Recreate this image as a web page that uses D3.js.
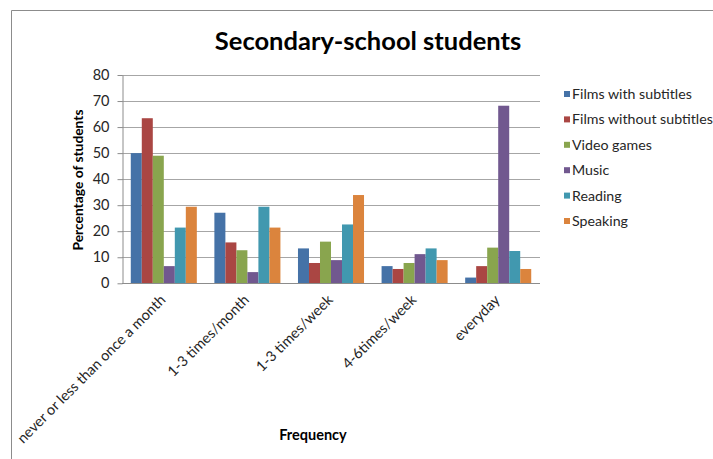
<!DOCTYPE html>
<html>
<head>
<meta charset="utf-8">
<script src="https://cdn.jsdelivr.net/npm/d3@7"></script>
<style>
  html, body { margin: 0; padding: 0; background: #fff; }
  svg { display: block; font-family: Lato, "Open Sans", sans-serif; }
</style>
</head>
<body>
<svg id="chart" width="713" height="459"></svg>
<script>
// Frequency categories along the x axis
const categories = [
  "never or less than once a month",
  "1-3 times/month",
  "1-3 times/week",
  "4-6times/week",
  "everyday"
];

// Activity series (percentage of students per frequency)
const seriesNames = [
  "Films with subtitles",
  "Films without subtitles",
  "Video games",
  "Music",
  "Reading",
  "Speaking"
];
const filmsWithSubtitles    = [50, 27.1, 13.4, 6.6, 2.2];
const filmsWithoutSubtitles = [63.4, 15.7, 7.8, 5.5, 6.6];
const videoGames            = [49, 12.7, 16, 7.8, 13.7];
const music                 = [6.6, 4.3, 8.9, 11.2, 68.2];
const reading               = [21.4, 29.4, 22.6, 13.4, 12.4];
const speaking              = [29.4, 21.4, 33.9, 8.9, 5.5];

const yTicks = [0, 10, 20, 30, 40, 50, 60, 70, 80];
const colors = ["#4572A7", "#AA4643", "#89A54E", "#71588F", "#4198AF", "#DB843D"];

const seriesValues = [filmsWithSubtitles, filmsWithoutSubtitles, videoGames, music, reading, speaking];
const rows = categories.map((c, i) => ({
  category: c,
  values: seriesNames.map((s, j) => ({ key: s, value: seriesValues[j][i] }))
}));

const svg = d3.select("#chart");
const plot = { left: 122, right: 540, top: 75, bottom: 283.3 };

// Outer chart frame
svg.append("path")
  .attr("d", "M11.5,470 V10.5 H720")
  .attr("fill", "none")
  .attr("stroke", "#8c8c8c")
  .attr("stroke-width", 1);

const x0 = d3.scaleBand()
  .domain(categories)
  .range([plot.left, plot.right])
  .paddingInner(0.21)
  .paddingOuter(0.105);

const x1 = d3.scaleBand()
  .domain(seriesNames)
  .range([0, x0.bandwidth()]);

const y = d3.scaleLinear()
  .domain([0, 80])
  .range([plot.bottom, plot.top]);

const color = d3.scaleOrdinal().domain(seriesNames).range(colors);

// Horizontal gridlines
svg.append("g")
  .selectAll("line")
  .data(yTicks.filter(t => t > 0))
  .join("line")
  .attr("x1", plot.left)
  .attr("x2", plot.right)
  .attr("y1", d => Math.round(y(d)) + 0.5)
  .attr("y2", d => Math.round(y(d)) + 0.5)
  .attr("stroke", "#a6a6a6")
  .attr("stroke-width", 1);

// Bars
svg.append("g")
  .selectAll("g")
  .data(rows)
  .join("g")
  .attr("transform", d => `translate(${x0(d.category)},0)`)
  .selectAll("rect")
  .data(d => d.values)
  .join("rect")
  .attr("x", d => x1(d.key))
  .attr("y", d => y(d.value))
  .attr("width", x1.bandwidth())
  .attr("height", d => y(0) - y(d.value))
  .attr("fill", d => color(d.key));

// Y axis
const yAxis = svg.append("g")
  .attr("transform", `translate(${plot.left + 0.5},0)`)
  .call(d3.axisLeft(y).tickValues(yTicks).tickSize(5).tickPadding(8).tickSizeOuter(0));
yAxis.select(".domain").attr("stroke", "#8c8c8c");
yAxis.selectAll(".tick line").attr("stroke", "#8c8c8c");
yAxis.selectAll(".tick text")
  .attr("fill", "#262626")
  .style("font-size", "14.5px")
  .style("font-family", "Lato, 'Open Sans', sans-serif");

// X axis baseline
const xAxis = svg.append("g")
  .attr("transform", `translate(0,${Math.round(plot.bottom) + 0.5})`)
  .call(d3.axisBottom(x0).tickSize(0).tickFormat(""));
xAxis.select(".domain")
  .attr("d", `M${plot.left},0H${plot.right}`)
  .attr("stroke", "#8c8c8c");

// Rotated category labels
svg.append("g")
  .selectAll("text")
  .data(categories)
  .join("text")
  .attr("transform", d => `translate(${x0(d) + x0.bandwidth() / 2 - 1},${plot.bottom + 14}) rotate(-45)`)
  .attr("text-anchor", "end")
  .attr("dy", "0.35em")
  .attr("fill", "#262626")
  .style("font-size", "14.5px")
  .text(d => d);

// Title
svg.append("text")
  .attr("x", 368)
  .attr("y", 50)
  .attr("text-anchor", "middle")
  .attr("fill", "#000")
  .style("font-size", "25.5px")
  .style("font-weight", "bold")
  .text("Secondary-school students");

// Axis titles
svg.append("text")
  .attr("transform", "translate(83,180) rotate(-90)")
  .attr("text-anchor", "middle")
  .attr("fill", "#000")
  .style("font-size", "13.8px")
  .style("font-weight", "bold")
  .text("Percentage of students");

svg.append("text")
  .attr("x", 313)
  .attr("y", 440)
  .attr("text-anchor", "middle")
  .attr("fill", "#000")
  .style("font-size", "14.5px")
  .style("font-weight", "bold")
  .text("Frequency");

// Legend
const legend = svg.append("g")
  .selectAll("g")
  .data(seriesNames)
  .join("g")
  .attr("transform", (d, i) => `translate(564,${94 + i * 25.4})`);
legend.append("rect")
  .attr("x", 0)
  .attr("y", -3)
  .attr("width", 6)
  .attr("height", 6)
  .attr("fill", d => color(d));
legend.append("text")
  .attr("x", 8)
  .attr("dy", "0.35em")
  .attr("fill", "#262626")
  .style("font-size", "14.2px")
  .text(d => d);
</script>
</body>
</html>
